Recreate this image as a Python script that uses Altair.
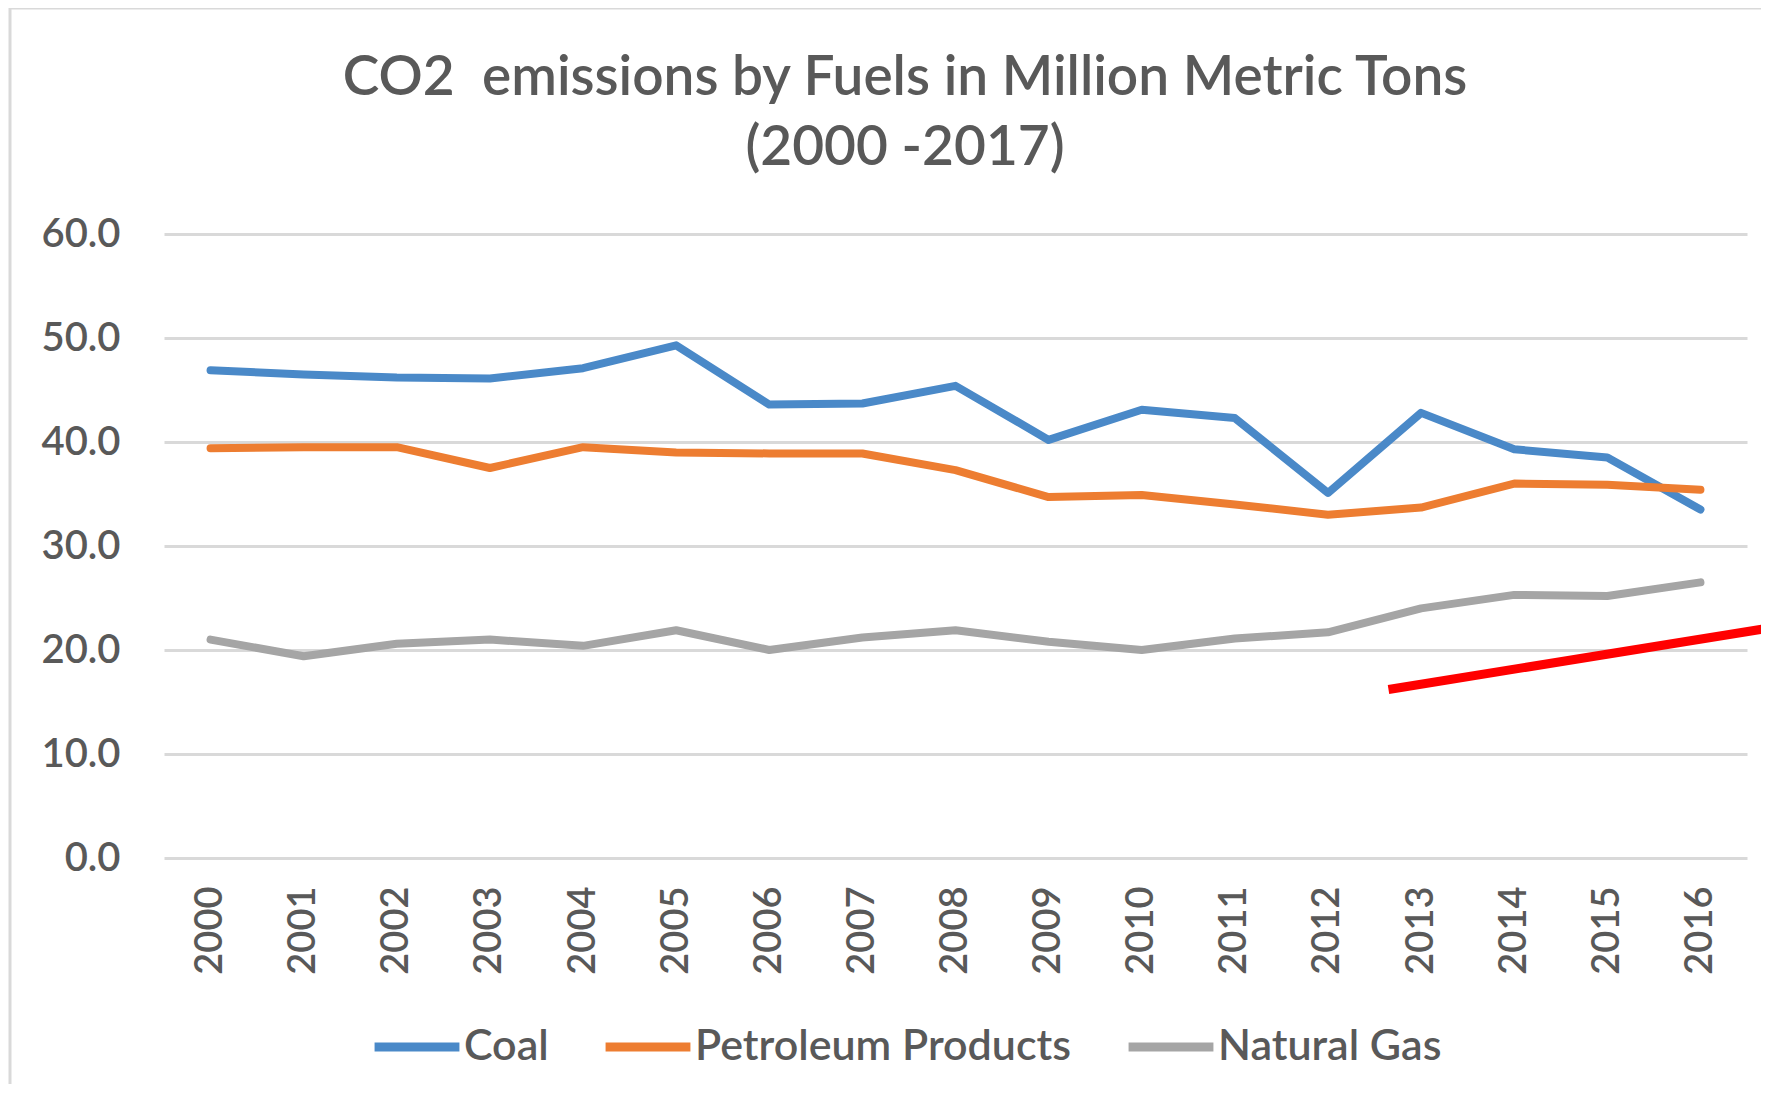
import altair as alt
import pandas as pd

years = list(range(2000, 2017))
coal = [46.9, 46.5, 46.2, 46.1, 47.1, 49.3, 43.6, 43.7, 45.4, 40.2, 43.1, 42.3, 35.1, 42.8, 39.3, 38.5, 33.5]
petroleum = [39.4, 39.5, 39.5, 37.5, 39.5, 39.0, 38.9, 38.9, 37.3, 34.7, 34.9, 34.0, 33.0, 33.7, 36.0, 35.9, 35.4]
natural_gas = [21.0, 19.4, 20.6, 21.0, 20.4, 21.9, 20.0, 21.2, 21.9, 20.8, 20.0, 21.1, 21.7, 24.0, 25.3, 25.2, 26.5]
series_names = ["Coal", "Petroleum Products", "Natural Gas"]
series_colors = ["#4A89C8", "#ED7D31", "#A5A5A5"]
y_ticks = [0, 10, 20, 30, 40, 50, 60]
title_lines = ["CO2\u00a0 emissions by Fuels in Million Metric Tons", "(2000 -2017)"]

# red annotation stroke (data units)
red_x = [2012.65, 2016.8]
red_y = [16.2, 22.2]

rows = []
for name, vals in zip(series_names, [coal, petroleum, natural_gas]):
    for yr, v in zip(years, vals):
        rows.append({"Year": yr, "Value": v, "Fuel": name, "order": series_names.index(name)})
df = pd.DataFrame(rows)
red_df = pd.DataFrame({"x": red_x, "y": red_y})
title_df = pd.DataFrame({"t": [0]})

FONT = "Lato"
TXT = "#595959"
W, H = 1583, 624

xscale = alt.Scale(domain=[1999.5, 2016.5], nice=False, zero=False)
yscale = alt.Scale(domain=[0, 60], nice=False)
xaxis = alt.Axis(values=years, format="d", labelAngle=270, labelFontSize=38,
                 labelFont=FONT, labelFontWeight=600, labelColor=TXT,
                 labelPadding=28, ticks=False, domain=False, grid=False, title=None)
yaxis = alt.Axis(values=y_ticks, format=".1f", labelFontSize=40, labelFont=FONT,
                 labelFontWeight=600, labelColor=TXT, labelPadding=44, ticks=False,
                 domain=False, grid=True, gridColor="#D9D9D9", gridWidth=3, title=None)

lines = alt.Chart(df).mark_line(strokeWidth=8, strokeCap="round", strokeJoin="round").encode(
    x=alt.X("Year:Q", scale=xscale, axis=xaxis),
    y=alt.Y("Value:Q", scale=yscale, axis=yaxis),
    color=alt.Color("Fuel:N", scale=alt.Scale(domain=series_names, range=series_colors),
                    title=None,
                    legend=alt.Legend(orient="none", legendX=206, legendY=766,
                                      direction="horizontal", symbolType="stroke",
                                      symbolSize=7200, symbolStrokeWidth=9,
                                      labelFontSize=43, labelFont=FONT, labelFontWeight=600,
                                      labelColor=TXT, labelLimit=1000,
                                      labelOffset=0, columnPadding=38)),
    order=alt.Order("order:Q"),
    detail="Fuel:N",
)

red = alt.Chart(red_df).mark_line(color="#FF0000", strokeWidth=9, clip=False).encode(
    x=alt.X("x:Q", scale=xscale, axis=xaxis),
    y=alt.Y("y:Q", scale=yscale, axis=yaxis),
)

title = alt.Chart(title_df).mark_text(
    text=title_lines, font=FONT, fontSize=55, fontWeight=600, color=TXT,
    align="center", baseline="alphabetic", lineHeight=70,
).encode(x=alt.value(741), y=alt.value(-139))

frame_top = alt.Chart(title_df).mark_rule(color="#D9D9D9", strokeWidth=3).encode(
    x=alt.value(-154), x2=alt.value(W + 30), y=alt.value(-226)
)
frame_left = alt.Chart(title_df).mark_rule(color="#D9D9D9", strokeWidth=3).encode(
    x=alt.value(-154), y=alt.value(-226), y2=alt.value(H + 260)
)

chart = alt.layer(frame_top, frame_left, title, lines, red).properties(
    width=W, height=H,
    padding={"left": 156, "top": 226, "right": 14, "bottom": 226},
    autosize=alt.AutoSizeParams(type="none"),
    background="white",
).configure_view(stroke=None)

chart.save("out.html", embed_options={"renderer": "svg", "actions": False})
